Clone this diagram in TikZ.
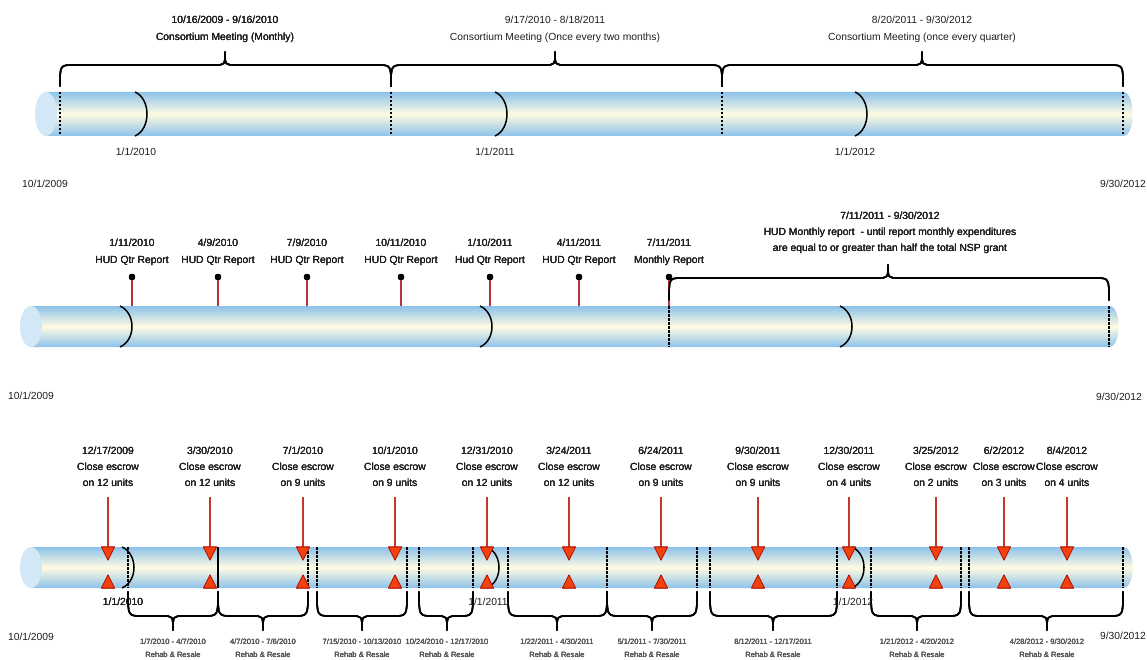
\documentclass[tikz,border=0pt]{standalone}
\usepackage{fontspec}
\setmainfont{Liberation Sans}
\definecolor{tubeedge}{HTML}{8DC2EA}
\definecolor{tubemid}{HTML}{FFFBE2}
\definecolor{capfill}{HTML}{D3E8F7}
\definecolor{pinred}{HTML}{B5343A}
\definecolor{arrred}{HTML}{C0392B}
\definecolor{trifill}{HTML}{F2400F}
\definecolor{triedge}{HTML}{B01000}
\definecolor{txt}{HTML}{1E1E1E}
\definecolor{smalltxt}{HTML}{555555}
\tikzset{
 lbl/.style={font=\fontsize{10.3}{17}\selectfont, text=txt, align=center, inner sep=0pt},
 lblb/.style={font=\fontsize{10.3}{16}\selectfont, text=txt, align=center, inner sep=0pt},
 small/.style={font=\fontsize{7.6}{13}\selectfont, text=smalltxt, align=center, inner sep=0pt},
 tick/.style={draw=black, line width=1.1pt, dash pattern=on 2.5pt off 1.5pt},
 solidtick/.style={draw=black, line width=1.1pt},
 yeararc/.style={draw=black, line width=1.5pt},
 bracestyle/.style={draw=black, line width=1.6pt, line cap=round, line join=round},
 pinline/.style={draw=pinred, line width=1.5pt},
 escline/.style={draw=arrred, line width=1.5pt},
 tri/.style={fill=trifill, draw=triedge, line width=0.6pt, line join=round},
}
% tube: left cap centre x, right end x, top y, bottom y
\newcommand\drawtube[4]{%
 \shade[top color=tubeedge,bottom color=tubeedge,middle color=tubemid]
   (#1,#3) -- (#2,#3) .. controls (#2+13,#3) and (#2+13,#4) .. (#2,#4) -- (#1,#4) -- cycle;
 \fill[capfill] (#1,{(#3+#4)/2}) ellipse [x radius=11, y radius={(#4-#3)/2}];
}
% year arc: x, top y, bottom y
\newcommand\yarc[3]{\draw[yeararc] (#1,#2) .. controls (#1+16,#2+7) and (#1+16,#3-7) .. (#1,#3);}
% brace: x1, x2, tip x, base y, straight y, tip y
\newcommand\cbrace[6]{\draw[bracestyle] (#1,#4) .. controls (#1,#5) .. (#1+14,#5) -- (#3-11,#5) .. controls (#3,#5) .. (#3,#6) .. controls (#3,#5) .. (#3+11,#5) -- (#2-14,#5) .. controls (#2,#5) .. (#2,#4);}
\begin{document}
\begin{tikzpicture}[x=1pt,y=-1pt]
\useasboundingbox (0,0) rectangle (1147,660);
% ---------------- top timeline ----------------
\drawtube{46}{1123}{92}{136}
\foreach \x in {60,391,722,1123} \draw[tick] (\x,92) -- (\x,136);
\foreach \x in {135,495,855} \yarc{\x}{92}{136}
\cbrace{60}{391}{225}{86}{65}{52}
\cbrace{391}{722}{555}{86}{65}{52}
\cbrace{722}{1123}{922}{86}{65}{52}
\node[lbl] (t1) at (225,29) {10/16/2009 - 9/16/2010\\Consortium Meeting (Monthly)};
\node[lbl] (t2) at (555,29) {9/17/2010 - 8/18/2011\\Consortium Meeting (Once every two months)};
\node[lbl] (t3) at (922,29) {8/20/2011 - 9/30/2012\\Consortium Meeting (once every quarter)};
\node[lbl] (ty1) at (136,152) {1/1/2010};
\node[lbl] (ty2) at (495,152) {1/1/2011};
\node[lbl] (ty3) at (855,152) {1/1/2012};
\node[lbl] (ts) at (45,184) {10/1/2009};
\node[lbl] (te) at (1123,184) {9/30/2012};
% ---------------- middle timeline ----------------
\drawtube{31}{1109}{306}{347}
\foreach \x in {669,1109} \draw[tick] (\x,306) -- (\x,347);
\foreach \x in {120,480,840} \yarc{\x}{306}{347}
\foreach \x/\d/\n [count=\i] in {132/{1/11/2010}/{HUD Qtr Report},218/{4/9/2010}/{HUD Qtr Report},307/{7/9/2010}/{HUD Qtr Report},401/{10/11/2010}/{HUD Qtr Report},490/{1/10/2011}/{Hud Qtr Report},579/{4/11/2011}/{HUD Qtr Report},669/{7/11/2011}/{Monthly Report}}{
  \node[lbl] (r\i) at (\x,252.5) {\d\\\n};
  \coordinate (p\i) at (\x,277);
  \coordinate (pt\i) at (\x,306);
  \draw[pinline] (p\i) -- (pt\i);
  \fill (p\i) circle (3.2pt);
}
\cbrace{669}{1109}{888}{300}{278}{265}
\node[lblb] (mb) at (890,233) {7/11/2011 - 9/30/2012\\HUD Monthly report\ \ - until report monthly expenditures\\are equal to or greater than half the total NSP grant};
\node[lbl] (ms) at (31,396) {10/1/2009};
\node[lbl] (me) at (1119,397) {9/30/2012};
% ---------------- bottom timeline ----------------
\drawtube{31}{1123}{547}{588}
\foreach \x in {128,308,317,407,419,473,508,607,697,710,837,871,961,969,1123} \draw[tick] (\x,547) -- (\x,588);
\draw[solidtick] (218,547) -- (218,588);
\foreach \x in {122,487,852} \yarc{\x}{547}{588}
\foreach \x/\d/\n [count=\i] in {108/{12/17/2009}/12,210/{3/30/2010}/12,303/{7/1/2010}/9,395/{10/1/2010}/9,487/{12/31/2010}/12,569/{3/24/2011}/12,661/{6/24/2011}/9,758/{9/30/2011}/9,849/{12/30/2011}/4,936/{3/25/2012}/2,1004/{6/2/2012}/3,1067/{8/4/2012}/4}{
  \node[lblb] (e\i) at (\x,467) {\d\\Close escrow\\on \n\ units};
  \coordinate (es\i) at (\x,497);
  \coordinate (et\i) at (\x,548);
  \draw[escline] (es\i) -- (et\i);
  \draw[tri] (\x-6.5,547) -- (\x+6.5,547) -- (\x,560) -- cycle;
  \draw[tri] (\x-6.5,588) -- (\x+6.5,588) -- (\x,575) -- cycle;
}
\foreach \a/\b/\m/\t [count=\i] in {128/218/173/{1/7/2010 - 4/7/2010},218/308/263/{4/7/2010 - 7/6/2010},317/407/362/{7/15/2010 - 10/13/2010},419/473/447/{10/24/2010 - 12/17/2010},508/607/557/{1/22/2011 - 4/30/2011},607/697/652/{5/1/2011 - 7/30/2011},710/837/773/{8/12/2011 - 12/17/2011},871/961/917/{1/21/2012 - 4/20/2012},969/1123/1047/{4/28/2012 - 9/30/2012}}{
  \cbrace{\a}{\b}{\m}{592}{616}{630}
  \node[small] (rr\i) at (\m,648.5) {\t\\Rehab \& Resale};
}
\node[lbl] (by1) at (123,602) {1/1/2010};
\node[lbl] (by2) at (488,602) {1/1/2011};
\node[lbl] (by3) at (853,602) {1/1/2012};
\node[lbl] (bs) at (31,637) {10/1/2009};
\node[lbl] (be) at (1123,636) {9/30/2012};
\end{tikzpicture}
\end{document}
